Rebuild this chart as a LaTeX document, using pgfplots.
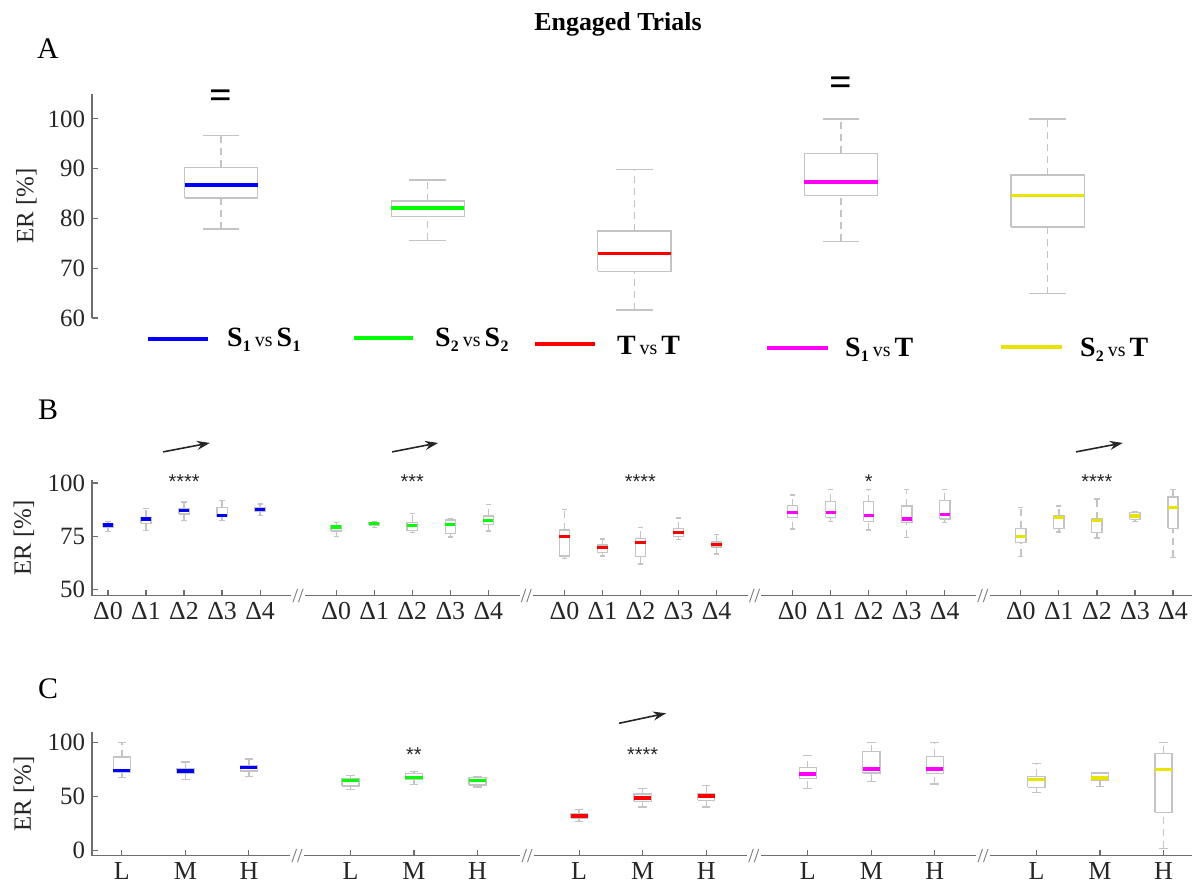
\documentclass[border=0pt]{standalone}
\usepackage{pgfplots}
\pgfplotsset{compat=1.18}
\usetikzlibrary{arrows.meta}
\usepackage{graphicx}
\usepackage{fontspec}
\setmainfont{Liberation Serif}
\newfontfamily\starfont{Liberation Sans}

\definecolor{cblue}{RGB}{0,0,255}
\definecolor{cgreen}{RGB}{0,255,0}
\definecolor{cred}{RGB}{255,0,0}
\definecolor{cmag}{RGB}{255,0,255}
\definecolor{cyel}{RGB}{232,228,0}
\definecolor{boxgray}{RGB}{196,196,196}
\definecolor{axgray}{RGB}{110,110,110}

\tikzset{
  boxline/.style={draw=boxgray, line width=0.65bp, line join=miter},
  stem/.style={boxline, dash pattern=on 3.5bp off 2.5bp},
  trend/.style={draw=black!85, line width=0.8bp, -{Stealth[length=6.5bp,width=4.5bp]}},
  brk/.style={fill=white, inner sep=0.6bp, font=\fontsize{10}{10}\selectfont, text=axgray},
  stars/.style={anchor=base, font=\starfont\fontsize{10}{10}\selectfont, text=black!85},
}

\pgfplotsset{
  panel/.style={
    scale only axis, anchor=south west, clip=false,
    axis line style={draw=axgray, line width=0.6bp},
    tick style={draw=axgray, line width=0.6bp},
    tick align=inside, major tick length=3bp,
    yticklabel style={font=\fontsize{12.5}{14}\selectfont, text=black!85},
    xticklabel style={font=\fontsize{13}{15}\selectfont, text=black!85},
    /pgf/number format/assume math mode=true,
  },
  ylab/.style={
    ylabel={ER [\%]},
    every axis y label/.style={at={(axis description cs:-0.062,0.5)}, rotate=90, anchor=center,
      font=\fontsize{12.5}{14}\selectfont, text=black!85},
  },
}

% half box width and half cap width (axis units), set per panel
\def\bw{0.177}\def\cw{0.0885}
% colour, position, lower whisker, lower quartile, median, upper quartile, upper whisker
\newcommand{\bx}[7]{%
  \pgfmathsetmacro{\xl}{#2-\bw}\pgfmathsetmacro{\xr}{#2+\bw}%
  \pgfmathsetmacro{\cl}{#2-\cw}\pgfmathsetmacro{\cr}{#2+\cw}%
  \addplot[stem] coordinates {(#2,#3) (#2,#4)};
  \addplot[stem] coordinates {(#2,#6) (#2,#7)};
  \addplot[boxline] coordinates {(\cl,#3) (\cr,#3)};
  \addplot[boxline] coordinates {(\cl,#7) (\cr,#7)};
  \addplot[boxline] coordinates {(\xl,#4) (\xr,#4) (\xr,#6) (\xl,#6) (\xl,#4)};
  \addplot[draw=#1, line width=1.7bp] coordinates {(\xl,#5) (\xr,#5)};
}

\newcommand{\Sx}[1]{\textbf{S}\kern0.2bp\raisebox{-2.5bp}{\fontsize{8}{8}\selectfont\textbf{#1}}}
\newcommand{\Tx}{\textbf{T}}
\newcommand{\vs}{\hspace{2bp}{\fontsize{10}{10}\selectfont vs}\hspace{2bp}}

\begin{document}
\begin{tikzpicture}
\useasboundingbox (0,0) rectangle (600bp,-444bp);

\node[font=\bfseries\fontsize{13}{15}\selectfont] at (309bp,-12bp) {Engaged Trials};
\node[font=\fontsize{15}{17}\selectfont] at (24bp,-24.5bp) {A};
\node[font=\fontsize{15}{17}\selectfont] at (24bp,-205bp) {B};
\node[font=\fontsize{15}{17}\selectfont] at (24bp,-344.5bp) {C};

% ---------------- Panel A ----------------
\def\bw{0.177}\def\cw{0.0885}
\begin{axis}[panel, at={(46bp,-159bp)}, width=529.5bp, height=112bp,
  xmin=0.375, xmax=5.5, ymin=60, ymax=105,
  axis x line=none, axis y line*=left,
  ytick={60,70,80,90,100}, xtick=\empty, ylab]
\bx{cblue}{1}{77.9}{84.1}{86.7}{90.3}{96.6}
\bx{cgreen}{2}{75.6}{80.4}{82.1}{83.5}{87.7}
\bx{cred}{3}{61.6}{69.4}{72.9}{77.5}{89.8}
\bx{cmag}{4}{75.4}{84.6}{87.3}{93.1}{100}
\bx{cyel}{5}{64.9}{78.3}{84.6}{88.7}{100}
\node[font=\bfseries\fontsize{20}{20}\selectfont] at (axis cs:1,104) {=};
\node[font=\bfseries\fontsize{20}{20}\selectfont] at (axis cs:4,106.5) {=};
\end{axis}

% legend
\begin{scope}[font=\fontsize{14}{16}\selectfont]
\draw[cblue, line width=2bp] (74bp,-169.5bp) -- (104bp,-169.5bp);
\node[anchor=west] at (110bp,-170bp) {\Sx{1}\vs\Sx{1}};
\draw[cgreen, line width=2bp] (177bp,-169bp) -- (206.5bp,-169bp);
\node[anchor=west] at (214bp,-170bp) {\Sx{2}\vs\Sx{2}};
\draw[cred, line width=2bp] (267.5bp,-172bp) -- (297.5bp,-172bp);
\node[anchor=west] at (305bp,-172.5bp) {\Tx\vs\Tx};
\draw[cmag, line width=2bp] (383.5bp,-174bp) -- (414bp,-174bp);
\node[anchor=west] at (419bp,-175bp) {\Sx{1}\vs\Tx};
\draw[cyel, line width=2bp] (500.5bp,-173.5bp) -- (531bp,-173.5bp);
\node[anchor=west] at (536.5bp,-175bp) {\Sx{2}\vs\Tx};
\end{scope}

% ---------------- Panel B ----------------
\def\bw{0.135}\def\cw{0.068}
\begin{axis}[panel, at={(46bp,-297.85bp)}, width=550bp, height=57.85bp,
  xmin=-0.42, xmax=28.5, ymin=47.1, ymax=101.4,
  axis x line*=bottom, axis y line*=left,
  ytick={50,75,100},
  xtick={0,1,2,3,4,6,7,8,9,10,12,13,14,15,16,18,19,20,21,22,24,25,26,27,28},
  xticklabels={Δ0,Δ1,Δ2,Δ3,Δ4,Δ0,Δ1,Δ2,Δ3,Δ4,Δ0,Δ1,Δ2,Δ3,Δ4,Δ0,Δ1,Δ2,Δ3,Δ4,Δ0,Δ1,Δ2,Δ3,Δ4},
  ylab]
% S1 vs S1
\bx{cblue}{0}{77.1}{79.2}{80.3}{81.1}{81.8}
\bx{cblue}{1}{77.6}{81.1}{83.1}{83.9}{87.9}
\bx{cblue}{2}{82.3}{85.4}{87.0}{88.1}{91.1}
\bx{cblue}{3}{82.3}{84.2}{84.7}{88.6}{91.7}
\bx{cblue}{4}{84.7}{86.5}{87.6}{88.4}{90.1}
% S2 vs S2
\bx{cgreen}{6}{75.0}{77.5}{79.3}{80.1}{81.4}
\bx{cgreen}{7}{79.0}{80.1}{80.9}{81.5}{81.8}
\bx{cgreen}{8}{76.7}{77.6}{80.1}{81.6}{85.8}
\bx{cgreen}{9}{74.6}{76.2}{80.6}{82.6}{83.4}
\bx{cgreen}{10}{77.5}{80.6}{82.5}{84.5}{90.0}
% T vs T
\bx{cred}{12}{64.4}{65.7}{74.8}{77.9}{87.7}
\bx{cred}{13}{65.7}{67.5}{69.6}{70.9}{73.7}
\bx{cred}{14}{62.0}{65.4}{72.1}{74.0}{79.2}
\bx{cred}{15}{73.4}{75.0}{76.9}{78.6}{83.6}
\bx{cred}{16}{66.7}{70.0}{71.2}{72.3}{75.9}
% S1 vs T
\bx{cmag}{18}{78.4}{83.9}{86.1}{89.4}{94.4}
\bx{cmag}{19}{82.0}{83.9}{86.1}{91.4}{96.9}
\bx{cmag}{20}{77.9}{82.0}{84.8}{91.2}{96.9}
\bx{cmag}{21}{74.5}{81.4}{83.1}{89.2}{96.9}
\bx{cmag}{22}{81.5}{83.1}{85.3}{91.9}{96.9}
% S2 vs T
\bx{cyel}{24}{65.6}{72.0}{75.0}{78.7}{88.6}
\bx{cyel}{25}{77.0}{78.6}{83.7}{84.7}{89.2}
\bx{cyel}{26}{74.2}{76.7}{82.3}{83.2}{92.5}
\bx{cyel}{27}{81.8}{83.0}{84.5}{86.1}{86.6}
\bx{cyel}{28}{65.1}{78.7}{88.6}{93.4}{96.9}
% axis breaks
\node[brk] at (axis cs:5,47.1) {//};
\node[brk] at (axis cs:11,47.1) {//};
\node[brk] at (axis cs:17,47.1) {//};
\node[brk] at (axis cs:23,47.1) {//};
% significance and trend
\node[stars] at (axis cs:2,97.65) {****};
\node[stars] at (axis cs:8,97.65) {***};
\node[stars] at (axis cs:14,97.65) {****};
\node[stars] at (axis cs:20,97.65) {*};
\node[stars] at (axis cs:26,97.65) {****};
\draw[trend] (axis cs:1.45,114.6) -- (axis cs:2.68,118.8);
\draw[trend] (axis cs:7.47,114.6) -- (axis cs:8.68,118.8);
\draw[trend] (axis cs:25.45,114.6) -- (axis cs:26.68,118.8);
\end{axis}

% ---------------- Panel C ----------------
\def\bw{0.135}\def\cw{0.068}
\begin{axis}[panel, at={(46bp,-427.85bp)}, width=550bp, height=62bp,
  xmin=-0.47, xmax=16.85, ymin=-4.5, ymax=110,
  axis x line*=bottom, axis y line*=left,
  ytick={0,50,100},
  xtick={0,1,2,3.6,4.6,5.6,7.2,8.2,9.2,10.8,11.8,12.8,14.4,15.4,16.4},
  xticklabels={L,M,H,L,M,H,L,M,H,L,M,H,L,M,H},
  ylab]
\bx{cblue}{0}{68.0}{72.9}{74.2}{86.7}{100}
\bx{cblue}{1}{65.9}{71.7}{73.8}{75.6}{82.1}
\bx{cblue}{2}{68.9}{73.8}{77.2}{79.1}{84.9}
\bx{cgreen}{3.6}{56.6}{60.0}{65.2}{67.1}{69.8}
\bx{cgreen}{4.6}{61.2}{65.9}{67.7}{71.4}{73.5}
\bx{cgreen}{5.6}{59.0}{60.9}{65.2}{67.7}{68.9}
\bx{cred}{7.2}{26.8}{30.2}{32.3}{34.5}{38.2}
\bx{cred}{8.2}{40.6}{45.6}{48.9}{52.6}{57.6}
\bx{cred}{9.2}{40.6}{46.8}{50.7}{53.2}{60.3}
\bx{cmag}{10.8}{57.6}{67.1}{71.0}{76.9}{88.3}
\bx{cmag}{11.8}{64.3}{72.0}{75.6}{91.7}{100}
\bx{cmag}{12.8}{61.8}{71.7}{75.4}{87.4}{100}
\bx{cyel}{14.4}{53.9}{58.5}{65.9}{68.9}{80.6}
\bx{cyel}{15.4}{59.7}{65.2}{67.1}{72.0}{72.0}
\bx{cyel}{16.4}{2.2}{35.7}{75.1}{89.9}{100}
\node[brk] at (axis cs:2.76,-4.5) {//};
\node[brk] at (axis cs:6.38,-4.5) {//};
\node[brk] at (axis cs:9.95,-4.5) {//};
\node[brk] at (axis cs:13.56,-4.5) {//};
\node[stars] at (axis cs:4.6,82.9) {**};
\node[stars] at (axis cs:8.2,82.9) {****};
\draw[trend] (axis cs:7.83,117.8) -- (axis cs:8.57,127);
\end{axis}
\end{tikzpicture}
\end{document}
